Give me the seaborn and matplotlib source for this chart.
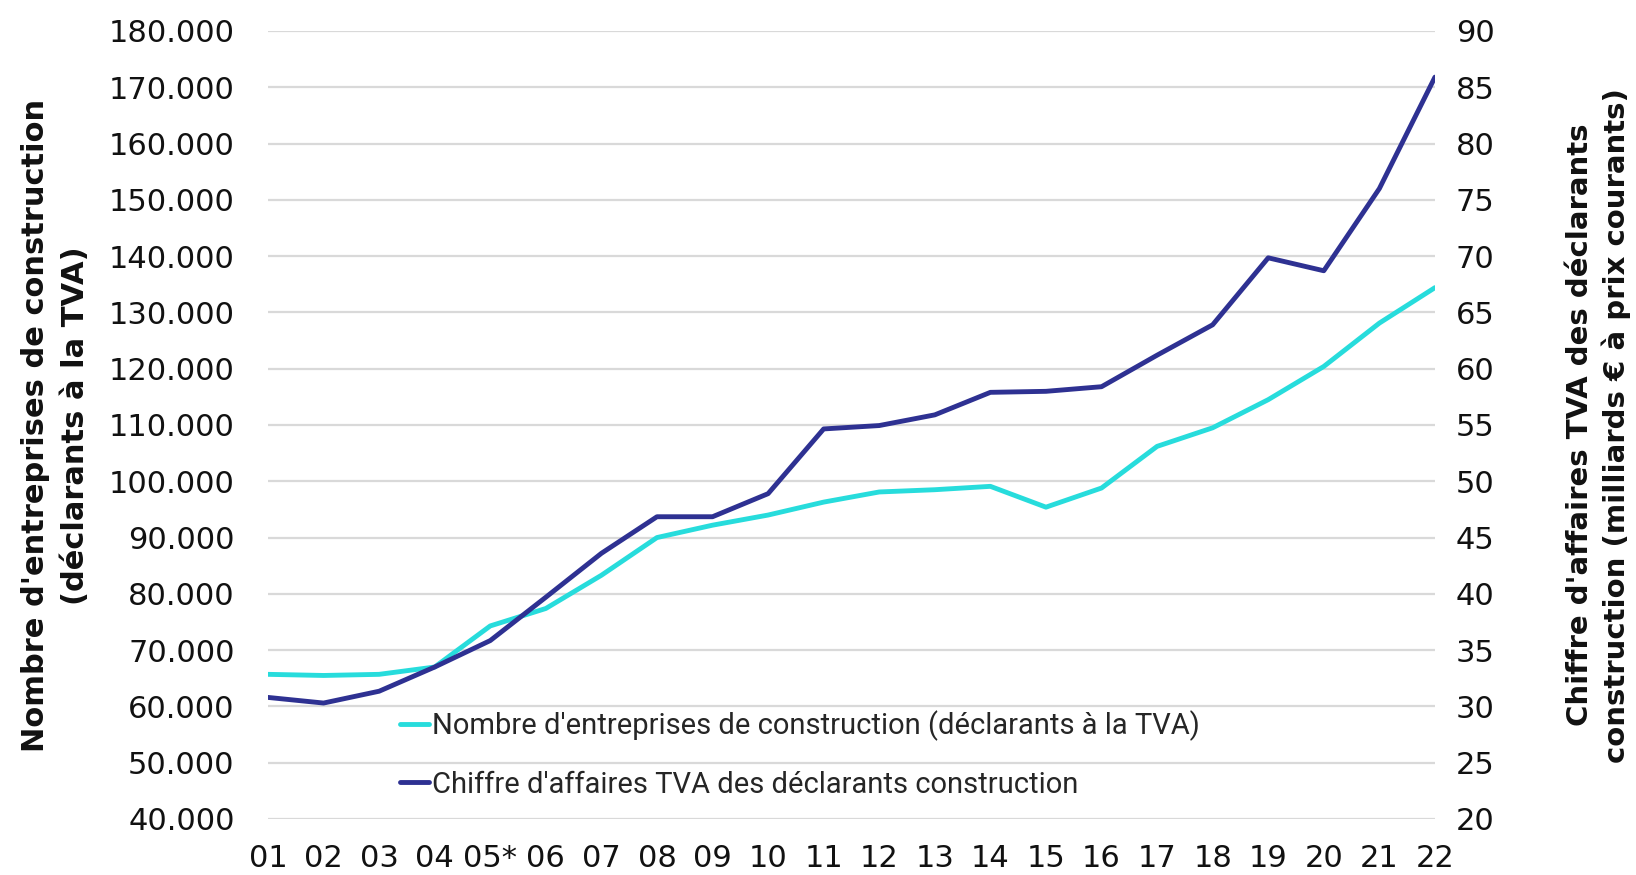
import numpy as np
import pandas as pd
import seaborn as sns
from matplotlib import pyplot as plt
from matplotlib.ticker import FuncFormatter, MultipleLocator

# années 2001-2022 (05* = rupture de série)
years = ['01', '02', '03', '04', '05*', '06', '07', '08', '09', '10', '11',
         '12', '13', '14', '15', '16', '17', '18', '19', '20', '21', '22']

# nombre d'entreprises de construction (déclarants à la TVA)
nb_entreprises = [65700, 65500, 65700, 67000, 74300, 77400, 83300, 90000,
                  92200, 94000, 96300, 98100, 98500, 99100, 95400, 98800,
                  106200, 109500, 114500, 120400, 128100, 134400]

# chiffre d'affaires TVA (milliards €)
chiffre_affaires = [30.8, 30.3, 31.35, 33.5, 35.85, 39.7, 43.6, 46.85,
                    46.85, 48.9, 54.65, 54.95, 55.9, 57.9, 57.99, 58.4,
                    61.2, 63.9, 69.85, 68.7, 76.0, 85.9]

label_nb = "Nombre d'entreprises de construction (déclarants à la TVA)"
label_ca = "Chiffre d'affaires TVA des déclarants construction"

CYAN = '#27dcdc'
NAVY = '#2e3192'
GRID = '#d9d9d9'
TXT = '#111111'

df = pd.DataFrame({
    'x': np.arange(len(years)),
    'nb': nb_entreprises,
    'ca': chiffre_affaires,
})

sns.set_theme(style='white')
plt.rcParams['font.family'] = ['DejaVu Sans']

fig = plt.figure(figsize=(16.36, 8.75), dpi=100)
ax = fig.add_axes([0.1638, 0.064, 0.7133, 0.9006])
ax2 = ax.twinx()

sns.lineplot(data=df, x='x', y='nb', ax=ax, color=CYAN, linewidth=3.5,
             label=label_nb, legend=False)
sns.lineplot(data=df, x='x', y='ca', ax=ax2, color=NAVY, linewidth=3.5,
             label=label_ca, legend=False)

ax.set_xlim(0, len(years) - 1)
ax.set_ylim(40000, 180000)
ax2.set_ylim(20, 90)
ax.yaxis.set_major_locator(MultipleLocator(10000))
ax2.yaxis.set_major_locator(MultipleLocator(5))
ax.yaxis.set_major_formatter(FuncFormatter(lambda v, p: f'{int(v):,}'.replace(',', '.')))

ax.set_xticks(df['x'])
ax.set_xticklabels(years)

ax.grid(axis='y', color=GRID, linewidth=1.6)
ax.grid(axis='x', visible=False)
ax2.grid(False)
for a in (ax, ax2):
    for s in a.spines.values():
        s.set_visible(False)
    a.tick_params(length=0, labelsize=22, colors=TXT)
ax.tick_params(axis='y', pad=24)
ax2.tick_params(axis='y', pad=15)
ax.tick_params(axis='x', pad=18)

ax.set_xlabel('')
ax.set_ylabel('')
ax2.set_ylabel('')
# titres des axes placés à la main
fig.text(0.034, 0.514,
         "Nombre d'entreprises de construction\n(déclarants à la TVA)",
         rotation=90, ha='center', va='center', multialignment='center',
         fontsize=22, fontweight='bold', color=TXT, linespacing=1.45)
fig.text(0.977, 0.514,
         "Chiffre d'affaires TVA des déclarants\nconstruction (milliards € à prix courants)",
         rotation=90, ha='center', va='center', multialignment='center',
         fontsize=21, fontweight='bold', color=TXT, linespacing=1.3)

h1, l1 = ax.get_legend_handles_labels()
h2, l2 = ax2.get_legend_handles_labels()
leg = ax2.legend(h1 + h2, l1 + l2, loc='lower left', bbox_to_anchor=(0.113, 0.026),
                 frameon=False, handlelength=1.0, handletextpad=0.1,
                 labelspacing=1.0, borderaxespad=0, borderpad=0,
                 prop={'family': ['Roboto', 'DejaVu Sans'], 'size': 21})

fig.savefig('out.png', dpi=100)
